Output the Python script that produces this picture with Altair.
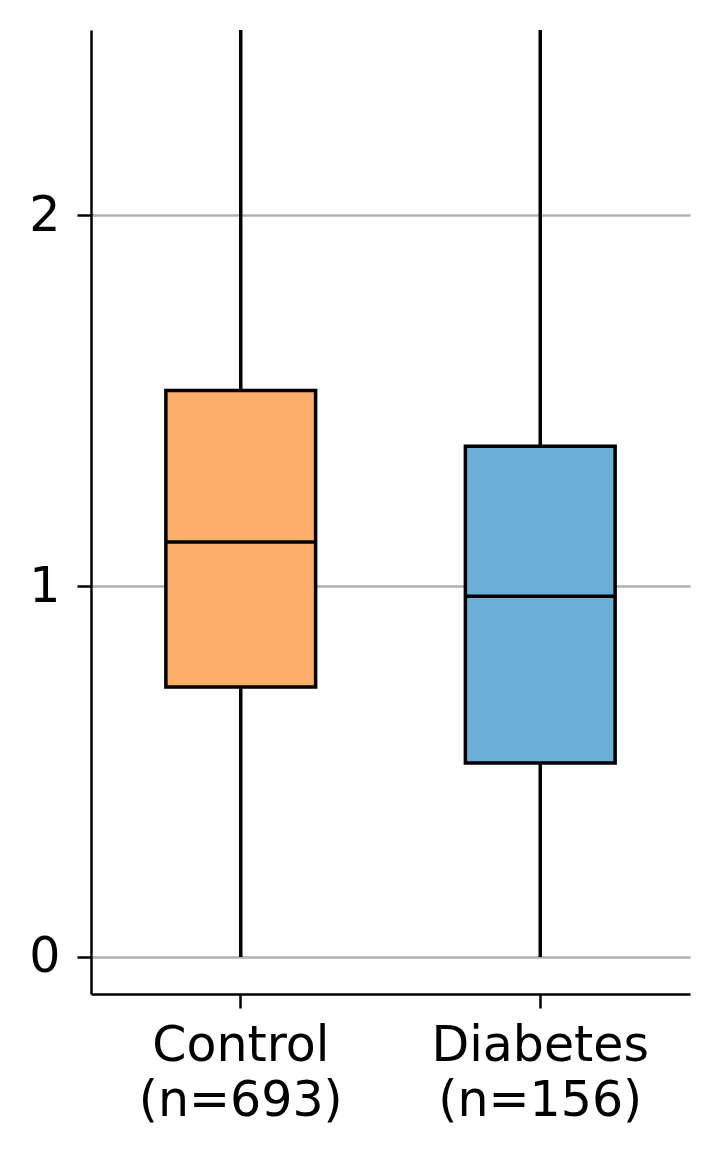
import altair as alt
import pandas as pd

groups = ["Control", "Diabetes"]
counts = [693, 156]
whisker_low = [0.0, 0.0]
q1 = [0.728, 0.523]
median = [1.119, 0.973]
q3 = [1.528, 1.377]
whisker_high = [2.9, 2.9]
colors = ["#fdae6b", "#6baed6"]

labels = [f"{g}\n(n={n})" for g, n in zip(groups, counts)]
df = pd.DataFrame({
    "group": labels,
    "lo": whisker_low,
    "q1": q1,
    "med": median,
    "q3": q3,
    "hi": whisker_high,
    "color": colors,
})

x = alt.X("group:N", sort=labels, title=None,
          scale=alt.Scale(paddingInner=0, paddingOuter=0),
          axis=alt.Axis(labelAngle=0, labelExpr="split(datum.label, '\\n')",
                        labelFontSize=49, labelFont="DejaVu Sans", labelColor="black",
                        labelLineHeight=55, labelPadding=13, labelLimit=1000,
                        tickSize=14, tickWidth=2.5, tickColor="black",
                        domainColor="black", domainWidth=2.5, grid=False))
yscale = alt.Scale(domain=[-0.1, 2.5], nice=False, zero=False)
yaxis = alt.Axis(values=[0, 1, 2], format="d", title=None,
                 labelFontSize=49, labelFont="DejaVu Sans", labelColor="black",
                 labelPadding=17, tickSize=14, tickWidth=2.5, tickColor="black",
                 domainColor="black", domainWidth=2.5,
                 grid=True, gridColor="#b0b0b0", gridWidth=2.5, minExtent=83)

base = alt.Chart(df)
whisk = base.mark_rule(color="black", strokeWidth=3.5, clip=True).encode(
    x=x, y=alt.Y("lo:Q", scale=yscale, axis=yaxis), y2="hi:Q")
box = base.mark_bar(width={"band": 0.5}, stroke="black", strokeWidth=3.5,
                    opacity=1, clip=True).encode(
    x=x, y=alt.Y("q1:Q", scale=yscale, axis=yaxis), y2="q3:Q",
    color=alt.Color("color:N", scale=None, legend=None))
med = base.mark_tick(color="black", thickness=3.5, size=150, opacity=1).encode(
    x=x, y=alt.Y("med:Q", scale=yscale, axis=yaxis))

chart = (whisk + box + med).properties(
    width=599, height=964,
    padding={"left": 0, "top": 22, "right": 21, "bottom": 10},
).configure_view(stroke=None)

chart.save("out.html", embed_options={"renderer": "svg", "actions": False})
